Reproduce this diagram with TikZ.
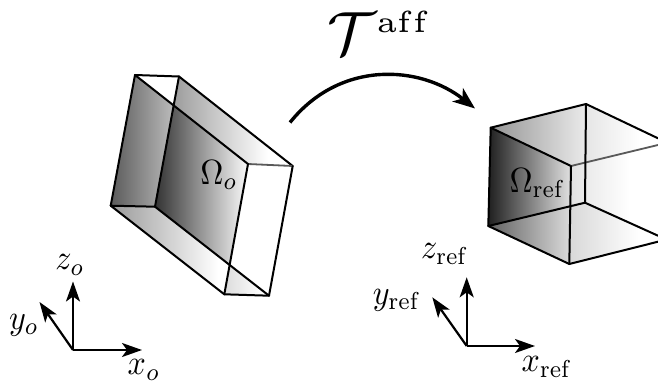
\documentclass[tikz,border=0pt]{standalone}
\usetikzlibrary{arrows.meta}
\tikzset{
  edge/.style={line width=2pt,line join=round,line cap=round,draw=black},
  soft/.style={line width=1.8pt,draw=black!65,line cap=round},
  axis/.style={line width=2.2pt,-{Stealth[length=20pt,width=14pt,inset=5pt]}},
  bigarrow/.style={line width=3.4pt,-{Stealth[length=22pt,width=17pt,inset=6pt]}},
  lab/.style={xscale=3.2,yscale=3.5,inner sep=0pt},
}
\newcommand{\gradregion}[5]{\begin{scope}\clip #1;\shade[left color=#2,right color=#3] (#4,0) rectangle (#5,385);\end{scope}}
\begin{document}
\begin{tikzpicture}[x=1pt,y=-1pt]
\useasboundingbox (0,0) rectangle (658,385);
% left box
\coordinate (A) at (135,75);
\coordinate (B) at (179,76.5);
\coordinate (C) at (292.7,166);
\coordinate (D) at (248,164);
\coordinate (E) at (110.7,205.7);
\coordinate (F) at (155,206.7);
\coordinate (G) at (224.3,294.3);
\coordinate (H) at (269,295.7);
\coordinate (P) at (173.3,105);
\coordinate (Q) at (229.3,265);
\gradregion{(A)--(E)--(F)--(P)--cycle}{black!65}{black!25}{110}{176}
\gradregion{(P)--(B)--(C)--(D)--cycle}{black!40}{white}{170}{268}
\gradregion{(P)--(F)--(Q)--(D)--cycle}{black!80}{white}{155}{250}
\gradregion{(E)--(F)--(Q)--(G)--cycle}{black!40}{white}{110}{218}
\gradregion{(Q)--(G)--(H)--cycle}{black!14}{white}{224}{262}
\draw[edge] (A)--(B);
\draw[edge] (B)--(C);
\draw[soft] (C)--(D);
\draw[edge] (A)--(D);
\draw[edge] (A)--(E);
\draw[edge] (E)--(F);
\draw[edge] (B)--(F);
\draw[edge] (E)--(G);
\draw[edge] (F)--(H);
\draw[edge] (G)--(H);
\draw[edge] (C)--(H);
\draw[edge] (D)--(G);
\node[lab] (omegao) at (219,175) {$\Omega_o$};
% right box
\coordinate (a) at (490.7,127.7);
\coordinate (b) at (586,104);
\coordinate (c) at (658,138.3);
\coordinate (c2) at (658,145);
\coordinate (d) at (571,166);
\coordinate (e) at (488.3,226);
\coordinate (f) at (585,202.7);
\coordinate (g) at (569.3,264);
\coordinate (f2) at (658,235.7);
\coordinate (g2) at (658,241.7);
\coordinate (R) at (585,162.3);
\coordinate (S) at (570.7,206.7);
\gradregion{(a)--(e)--(S)--(d)--cycle}{black!88}{black!8}{488}{575}
\gradregion{(a)--(b)--(R)--(d)--cycle}{black!42}{black!8}{490}{586}
\gradregion{(b)--(c)--(c2)--(R)--cycle}{black!10}{white}{585}{640}
\gradregion{(e)--(g)--(S)--cycle}{black!62}{black!14}{488}{571}
\gradregion{(d)--(R)--(f)--(S)--cycle}{black!12}{black!8}{571}{585}
\gradregion{(R)--(c2)--(f2)--(f)--cycle}{black!8}{white}{585}{630}
\gradregion{(S)--(f)--(f2)--(g2)--(g)--cycle}{black!15}{white}{570}{640}
\draw[edge] (a)--(b);
\draw[edge] (b)--(c);
\draw[edge] (a)--(d);
\draw[soft] (d)--(c2);
\draw[edge] (a)--(e);
\draw[edge] (b)--(f);
\draw[edge] (d)--(g);
\draw[edge] (e)--(f);
\draw[edge] (e)--(g);
\draw[edge] (f)--(f2);
\draw[edge] (g)--(g2);
\node[lab] (omegaref) at (537.5,183) {$\Omega_{\mathrm{ref}}$};
% map
\coordinate (mapstart) at (290,122.5);
\coordinate (mapend) at (475,108.5);
\draw[bigarrow] (mapstart) .. controls (340,60) and (420,65) .. (mapend);
\node[scale=6.1,inner sep=0pt] (taff) at (380,33) {$\mathcal{T}^{\scriptscriptstyle\mathrm{a{}f{}f}}$};
% left axes
\coordinate (o1) at (73,350);
\coordinate (x1) at (142,350);
\coordinate (y1) at (39.5,302);
\coordinate (z1) at (73,281.5);
\draw[axis] (o1)--(x1);
\draw[axis] (o1)--(y1);
\draw[axis] (o1)--(z1);
\node[lab] (labxo) at (144,370) {$x_o$};
\node[lab] (labyo) at (24,325) {$y_o$};
\node[lab] (labzo) at (70,265) {$z_o$};
% right axes
\coordinate (o2) at (466.7,346);
\coordinate (x2) at (535,346);
\coordinate (y2) at (432.3,297.3);
\coordinate (z2) at (466.7,277.3);
\draw[axis] (o2)--(x2);
\draw[axis] (o2)--(y2);
\draw[axis] (o2)--(z2);
\node[lab] (labxr) at (547,367) {$x_{\mathrm{ref}}$};
\node[lab] (labyr) at (397,300) {$y_{\mathrm{ref}}$};
\node[lab] (labzr) at (445,254) {$z_{\mathrm{ref}}$};
\end{tikzpicture}
\end{document}
